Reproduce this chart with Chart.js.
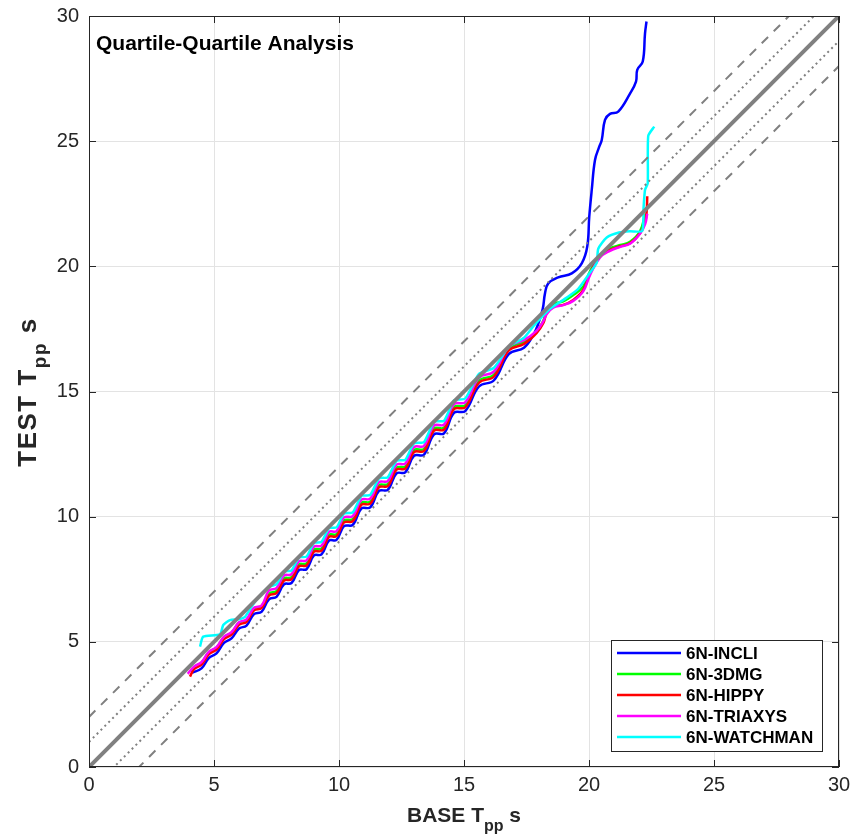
<!DOCTYPE html>
<html lang="en">
<head>
  <meta charset="UTF-8">
  <title>Quartile-Quartile Analysis</title>
  <script src="https://cdn.jsdelivr.net/npm/chart.js"></script>
  <style>
    html, body { margin: 0; padding: 0; background: #fff; }
  </style>
</head>
<body>
  <canvas id="grafico" width="862" height="836"></canvas>

  <script>
    // Eixos
    const tickVals = [0, 5, 10, 15, 20, 25, 30];
    // Linhas de referencia: y = x + deslocamento
    const refOffsets = [0, 1, -1, 2, -2];

    // 6N-INCLI
    const incliX = [4.12, 4.5, 4.8, 5.1, 5.4, 5.7, 6.0, 6.3, 6.6, 6.9, 7.2, 7.5, 7.8, 8.1, 8.4, 8.7, 9.0, 9.3, 9.6, 9.9,
      10.2, 10.55, 10.9, 11.25, 11.6, 11.95, 12.3, 12.65, 13.0, 13.4, 13.8, 14.2, 14.6, 15.05, 15.6, 16.2, 16.8, 17.4,
      17.77, 17.97, 18.15, 18.24, 18.37, 18.77, 19.31, 19.71, 19.93, 20.01, 20.11, 20.24, 20.41, 20.51, 20.64, 20.84,
      21.17, 21.64, 21.88, 21.93, 22.15, 22.24, 22.3];
    const incliY = [3.76, 3.94, 4.36, 4.54, 4.96, 5.14, 5.53, 5.65, 6.11, 6.2, 6.7, 6.8, 7.3, 7.35, 7.87, 7.9, 8.45, 8.49, 9.04, 9.07,
      9.62, 9.67, 10.33, 10.37, 11.03, 11.07, 11.73, 11.77, 12.43, 12.48, 13.29, 13.33, 14.15, 14.22, 15.2, 15.45, 16.5, 16.75,
      17.25, 17.7, 18.3, 18.92, 19.32, 19.56, 19.72, 20.12, 20.79, 21.98, 23.05, 24.25, 24.78, 25.05, 25.85, 26.09,
      26.18, 26.9, 27.38, 27.85, 28.18, 29.3, 29.78];

    // 6N-3DMG
    const dmgX = [4.1, 4.2, 4.5, 4.8, 5.1, 5.4, 5.7, 6.0, 6.3, 6.6, 6.9, 7.2, 7.5, 7.8, 8.1, 8.4, 8.7, 9.0, 9.3, 9.6,
      9.9, 10.2, 10.55, 10.9, 11.25, 11.6, 11.95, 12.3, 12.65, 13.0, 13.4, 13.8, 14.2, 14.6, 15.05, 15.6, 16.2, 16.8, 17.4,
      17.9, 18.17, 18.31, 18.57, 18.97, 19.37, 19.77, 20.04, 20.44, 20.84, 21.25, 21.64, 22.04, 22.25];
    const dmgY = [3.8, 3.99, 4.17, 4.59, 4.77, 5.19, 5.37, 5.76, 5.88, 6.34, 6.43, 6.93, 7.03, 7.53, 7.58, 8.1, 8.13, 8.68, 8.72, 9.27,
      9.3, 9.85, 9.9, 10.56, 10.6, 11.26, 11.3, 11.96, 12.0, 12.66, 12.71, 13.52, 13.56, 14.38, 14.45, 15.43, 15.68, 16.73, 16.98,
      17.4, 17.82, 18.2, 18.5, 18.6, 18.85, 19.2, 19.8, 20.45, 20.72, 20.85, 20.98, 21.4, 22.1];

    // 6N-HIPPY
    const hippyX = [4.04, 4.2, 4.5, 4.8, 5.1, 5.4, 5.7, 6.0, 6.3, 6.6, 6.9, 7.2, 7.5, 7.8, 8.1, 8.4, 8.7, 9.0, 9.3, 9.6,
      9.9, 10.2, 10.55, 10.9, 11.25, 11.6, 11.95, 12.3, 12.65, 13.0, 13.4, 13.8, 14.2, 14.6, 15.05, 15.6, 16.2, 16.8, 17.4,
      17.9, 18.17, 18.31, 18.57, 18.97, 19.37, 19.77, 20.04, 20.44, 20.84, 21.25, 21.64, 22.04, 22.25, 22.31, 22.33];
    const hippyY = [3.61, 3.91, 4.09, 4.51, 4.69, 5.11, 5.29, 5.68, 5.8, 6.26, 6.35, 6.85, 6.95, 7.45, 7.5, 8.02, 8.05, 8.6, 8.64, 9.19,
      9.22, 9.77, 9.82, 10.48, 10.52, 11.18, 11.22, 11.88, 11.92, 12.58, 12.63, 13.44, 13.48, 14.3, 14.37, 15.35, 15.6, 16.65, 16.9,
      17.33, 17.73, 18.13, 18.39, 18.46, 18.66, 19.06, 19.72, 20.39, 20.66, 20.8, 20.92, 21.32, 21.8, 22.25, 22.8];

    // 6N-TRIAXYS
    const triaxysX = [3.95, 4.2, 4.5, 4.8, 5.1, 5.4, 5.7, 6.0, 6.3, 6.6, 6.9, 7.2, 7.5, 7.8, 8.1, 8.4, 8.7, 9.0, 9.3, 9.6,
      9.9, 10.2, 10.55, 10.9, 11.25, 11.6, 11.95, 12.3, 12.65, 13.0, 13.4, 13.8, 14.2, 14.6, 15.05, 15.6, 16.2, 16.8, 17.4,
      17.9, 18.17, 18.31, 18.57, 18.97, 19.37, 19.77, 20.04, 20.44, 20.84, 21.25, 21.64, 22.04, 22.25, 22.33];
    const triaxysY = [3.72, 4.01, 4.19, 4.61, 4.79, 5.21, 5.39, 5.78, 5.9, 6.36, 6.45, 7.05, 7.15, 7.65, 7.7, 8.22, 8.25, 8.8, 8.84, 9.39,
      9.42, 9.97, 10.02, 10.68, 10.72, 11.38, 11.42, 12.08, 12.12, 12.78, 12.83, 13.64, 13.68, 14.5, 14.57, 15.55, 15.8, 16.8, 17.05,
      17.42, 17.8, 18.1, 18.35, 18.45, 18.62, 19.0, 19.65, 20.35, 20.62, 20.78, 20.9, 21.3, 21.7, 22.1];

    // 6N-WATCHMAN
    const watchmanX = [4.44, 4.57, 5.24, 5.37, 5.64, 5.97, 6.24, 6.5, 6.84, 7.2, 7.5, 7.8, 8.1, 8.4, 8.7, 9.0, 9.3, 9.6, 9.9, 10.2,
      10.55, 10.9, 11.25, 11.6, 11.95, 12.3, 12.65, 13.0, 13.4, 13.8, 14.2, 14.6, 15.05, 15.6, 16.2, 16.8, 17.4, 17.77, 18.44, 19.11,
      19.57, 20.04, 20.31, 20.37, 20.71, 21.2, 21.64, 22.13, 22.18, 22.24, 22.35, 22.37, 22.61];
    const watchmanY = [4.81, 5.21, 5.3, 5.67, 5.87, 5.9, 6.0, 6.4, 6.85, 7.2, 7.3, 7.8, 7.85, 8.37, 8.4, 8.95, 8.99, 9.54, 9.57, 10.12,
      10.17, 10.83, 10.87, 11.53, 11.57, 12.23, 12.27, 12.93, 12.98, 13.79, 13.83, 14.65, 14.72, 15.7, 15.95, 16.8, 17.15, 17.6, 18.3, 18.75,
      19.1, 19.75, 20.15, 20.7, 21.15, 21.35, 21.4, 21.42, 22.3, 23.05, 23.32, 25.21, 25.58];

    const series = [
      { label: '6N-INCLI', xs: incliX, ys: incliY, color: '#0000ff', tension: 0.4, order: 5 },
      { label: '6N-3DMG', xs: dmgX, ys: dmgY, color: '#00ff00', tension: 0.4, order: 4 },
      { label: '6N-HIPPY', xs: hippyX, ys: hippyY, color: '#ff0000', tension: 0.4, order: 3 },
      { label: '6N-TRIAXYS', xs: triaxysX, ys: triaxysY, color: '#ff00ff', tension: 0.4, order: 2 },
      { label: '6N-WATCHMAN', xs: watchmanX, ys: watchmanY, color: '#00ffff', tension: 0.2, order: 1 }
    ];

    function pontos(xs, ys) {
      return xs.map((x, i) => ({ x: x, y: ys[i] }));
    }

    const datasets = series.map(s => ({
      label: s.label,
      data: pontos(s.xs, s.ys),
      borderColor: s.color,
      borderWidth: 2.5,
      pointRadius: 0,
      showLine: true,
      tension: s.tension,
      order: s.order,
      fill: false
    }));

    // linhas de referencia (cinza) por cima das series
    refOffsets.forEach(off => {
      const a = Math.abs(off);
      datasets.push({
        label: null,
        isRef: true,
        data: [{ x: 0, y: off }, { x: 30, y: 30 + off }],
        borderColor: '#808080',
        borderWidth: a === 0 ? 4 : 2,
        borderDash: a === 0 ? [] : (a === 1 ? [2, 3.5] : [9, 8]),
        pointRadius: 0,
        showLine: true,
        tension: 0,
        order: 0
      });
    });

    const FONT = '"Liberation Sans", Arial, Helvetica, sans-serif';

    function textoSub(ctx, main, sub, tail, size, subSize, drop) {
      ctx.font = 'bold ' + size + 'px ' + FONT;
      const w1 = ctx.measureText(main).width;
      const w3 = ctx.measureText(tail).width;
      ctx.font = 'bold ' + subSize + 'px ' + FONT;
      const w2 = ctx.measureText(sub).width;
      let x = -(w1 + w2 + w3) / 2;
      ctx.font = 'bold ' + size + 'px ' + FONT;
      ctx.fillText(main, x, 0);
      x += w1;
      ctx.font = 'bold ' + subSize + 'px ' + FONT;
      ctx.fillText(sub, x, drop);
      x += w2;
      ctx.font = 'bold ' + size + 'px ' + FONT;
      ctx.fillText(tail, x, 0);
    }

    const moldura = {
      id: 'moldura',
      afterDraw(chart) {
        const { ctx, chartArea: a, scales: { x, y } } = chart;
        ctx.save();
        // caixa
        ctx.strokeStyle = '#262626';
        ctx.lineWidth = 1;
        ctx.strokeRect(a.left + 0.5, a.top + 0.5, a.right - a.left - 1, a.bottom - a.top - 1);
        // ticks para dentro
        ctx.beginPath();
        tickVals.forEach(v => {
          const px = Math.round(x.getPixelForValue(v)) + 0.5;
          const py = Math.round(y.getPixelForValue(v)) + 0.5;
          ctx.moveTo(px, a.bottom); ctx.lineTo(px, a.bottom - 7);
          ctx.moveTo(px, a.top); ctx.lineTo(px, a.top + 7);
          ctx.moveTo(a.left, py); ctx.lineTo(a.left + 7, py);
          ctx.moveTo(a.right, py); ctx.lineTo(a.right - 7, py);
        });
        ctx.stroke();

        // titulo interno
        ctx.fillStyle = '#000';
        ctx.textAlign = 'left';
        ctx.textBaseline = 'alphabetic';
        ctx.font = 'bold 21px ' + FONT;
        ctx.fillText('Quartile-Quartile Analysis', a.left + 7, a.top + 34);

        // titulos dos eixos
        ctx.fillStyle = '#262626';
        ctx.save();
        ctx.translate((a.left + a.right) / 2, 822);
        textoSub(ctx, 'BASE T', 'pp', ' s', 21, 16, 9);
        ctx.restore();
        ctx.save();
        ctx.translate(36, 392);
        ctx.rotate(-Math.PI / 2);
        ctx.letterSpacing = '1.5px';
        textoSub(ctx, 'TEST T', 'pp', ' s', 26, 19, 10);
        ctx.restore();

        // legenda
        const lx = 611, ly = 640, lw = 211, lh = 111;
        ctx.fillStyle = '#fff';
        ctx.fillRect(lx, ly, lw, lh);
        ctx.strokeStyle = '#262626';
        ctx.lineWidth = 1;
        ctx.strokeRect(lx + 0.5, ly + 0.5, lw, lh);
        ctx.font = 'bold 17px ' + FONT;
        ctx.textBaseline = 'middle';
        ctx.textAlign = 'left';
        chart.data.datasets.filter(d => !d.isRef).forEach((d, i) => {
          const yy = ly + 13 + i * 21;
          ctx.strokeStyle = d.borderColor;
          ctx.lineWidth = 2.5;
          ctx.beginPath();
          ctx.moveTo(lx + 6, yy);
          ctx.lineTo(lx + 70, yy);
          ctx.stroke();
          ctx.fillStyle = '#000';
          ctx.fillText(d.label, lx + 75, yy + 1);
        });
        ctx.restore();
      }
    };

    const eixo = (ajuste, pad) => ({
      type: 'linear',
      min: 0,
      max: 30,
      ticks: {
        stepSize: 5,
        color: '#262626',
        font: { family: FONT, size: 20 },
        padding: pad
      },
      grid: { color: '#e3e3e3', lineWidth: 1, drawTicks: false },
      border: { display: false },
      afterFit: ajuste
    });

    const ctx1 = document.getElementById('grafico').getContext('2d');
    const chart1 = new Chart(ctx1, {
      type: 'scatter',
      data: { datasets: datasets },
      options: {
        responsive: false,
        animation: false,
        devicePixelRatio: 1,
        layout: { padding: { left: 0, top: 16, right: 23, bottom: 0 } },
        plugins: {
          legend: { display: false },
          tooltip: { enabled: false }
        },
        scales: {
          x: eixo(s => { s.height = 69; s.paddingLeft = 0; s.paddingRight = 0; }, 6),
          y: eixo(s => { s.width = 89; s.paddingTop = 0; s.paddingBottom = 0; }, 10)
        }
      },
      plugins: [moldura]
    });
  </script>
</body>
</html>
